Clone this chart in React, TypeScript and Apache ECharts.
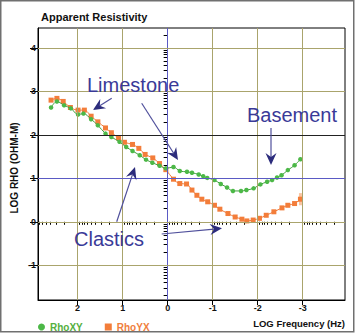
import React, { useEffect, useRef } from "react";
import * as echarts from "echarts";

// ---- data ----
const freqXY = [2.59, 2.46, 2.3, 2.15, 1.99, 1.87, 1.7, 1.55, 1.38, 1.25, 1.07, 0.92, 0.78, 0.62, 0.48, 0.34, 0.18, 0.04, -0.13, -0.27, -0.43, -0.54, -0.69, -0.79, -0.88, -1.04, -1.18, -1.32, -1.45, -1.63, -1.75, -1.91, -2.06, -2.21, -2.32, -2.43, -2.53, -2.67, -2.82, -2.95];
const rhoXY = [2.63, 2.77, 2.68, 2.61, 2.47, 2.49, 2.36, 2.22, 2.03, 1.95, 1.84, 1.72, 1.63, 1.53, 1.43, 1.36, 1.29, 1.23, 1.26, 1.17, 1.15, 1.13, 1.09, 1.05, 1.01, 0.96, 0.87, 0.79, 0.71, 0.71, 0.73, 0.77, 0.86, 0.92, 0.96, 1.02, 1.07, 1.19, 1.3, 1.44];
const freqYX = [2.59, 2.46, 2.32, 2.16, 1.99, 1.85, 1.7, 1.55, 1.38, 1.25, 1.09, 0.96, 0.78, 0.64, 0.5, 0.33, 0.18, 0.04, -0.13, -0.27, -0.42, -0.54, -0.65, -0.76, -0.89, -1.04, -1.16, -1.34, -1.5, -1.65, -1.76, -1.9, -2.04, -2.19, -2.36, -2.54, -2.67, -2.82, -2.95];
const rhoYX = [2.8, 2.84, 2.77, 2.63, 2.57, 2.57, 2.43, 2.3, 2.16, 2.05, 1.93, 1.83, 1.78, 1.69, 1.55, 1.47, 1.34, 1.2, 0.98, 0.88, 0.87, 0.73, 0.61, 0.52, 0.46, 0.38, 0.29, 0.19, 0.11, 0.06, 0.02, 0.04, 0.08, 0.15, 0.23, 0.32, 0.38, 0.42, 0.52];
// error bar on last RhoYX point: [freq, low, high]
const errYX = [[-2.95, 0.38, 0.66]];

const xTicks = [-3, -2, -1, 0, 1, 2];
const yTicks = [-1, 0, 1, 2, 3, 4];
const xOliveLines = [2, 1, -1, -2, -3];
const xBlueLines = [0];
const yOliveLines = [4, 3, 0, -1];
const yBlueLines = [1];
const yBlackLines = [2];

const X_MIN = -3.94;
const X_MAX = 2.88;
const Y_MIN = -1.8;
const Y_MAX = 4.46;

function logMinor(min: number, max: number) {
  const out: number[] = [];
  for (let n = Math.floor(min) - 1; n <= Math.ceil(max); n++) {
    for (let k = 2; k <= 9; k++) {
      const v = n + Math.log10(k);
      if (v > min && v < max) out.push(v);
    }
  }
  return out;
}

const OLIVE = "#aaa46c";
const BLUE = "#5a5ac4";
const NAVY = "#3a3a98";
const ARROW = "#2c2c7c";
const GREEN = "#4cb847";
const ORANGE = "#f37d3a";
const FONT = "Arial, 'Liberation Sans', sans-serif";

function arrow(x1: number, y1: number, x2: number, y2: number) {
  const dx = x2 - x1;
  const dy = y2 - y1;
  const len = Math.sqrt(dx * dx + dy * dy);
  const ux = dx / len;
  const uy = dy / len;
  const px = -uy;
  const py = ux;
  const hl = 12;
  const hw = 5.5;
  const notch = 4;
  const bx = x2 - ux * hl;
  const by = y2 - uy * hl;
  const nx = x2 - ux * (hl - notch);
  const ny = y2 - uy * (hl - notch);
  return [
    {
      type: "line",
      shape: { x1, y1, x2: nx, y2: ny },
      style: { stroke: "#50509c", lineWidth: 1.2 },
      z: 100,
    },
    {
      type: "polygon",
      shape: {
        points: [
          [x2, y2],
          [bx + px * hw, by + py * hw],
          [nx, ny],
          [bx - px * hw, by - py * hw],
        ],
      },
      style: { fill: ARROW },
      z: 100,
    },
  ];
}

export default function App() {
  const ref = useRef<HTMLDivElement>(null);

  useEffect(() => {
    if (!ref.current) return;
    const chart = echarts.init(ref.current, null, { renderer: "svg" });
    const xMinor = logMinor(X_MIN, X_MAX);
    const yMinor = logMinor(Y_MIN, Y_MAX);

    const gridLines: any[] = [];
    xOliveLines.forEach((v) => gridLines.push({ xAxis: v, lineStyle: { color: OLIVE, width: 1, type: "solid" } }));
    xBlueLines.forEach((v) => gridLines.push({ xAxis: v, lineStyle: { color: BLUE, width: 1, type: "solid" } }));
    yOliveLines.forEach((v) => gridLines.push({ yAxis: v, lineStyle: { color: OLIVE, width: 1, type: "solid" } }));
    yBlueLines.forEach((v) => gridLines.push({ yAxis: v, lineStyle: { color: BLUE, width: 1, type: "solid" } }));
    yBlackLines.forEach((v) => gridLines.push({ yAxis: v, lineStyle: { color: "#222", width: 1.2, type: "solid" } }));

    const labelFmt = (v: number) => String(Math.round(v));

    const option: any = {
      animation: false,
      backgroundColor: "#fff",
      title: {
        text: "Apparent Resistivity",
        left: 36,
        top: 6,
        textStyle: { fontSize: 11, fontWeight: "bold", color: "#111", fontFamily: FONT },
      },
      legend: {
        data: [
          { name: "RhoXY", icon: "circle", textStyle: { color: "#55b040" } },
          { name: "RhoYX", icon: "rect", textStyle: { color: "#f08040" } },
        ],
        left: 33,
        top: 317,
        itemWidth: 7,
        itemHeight: 7,
        itemGap: 22,
        textStyle: { fontSize: 10, fontWeight: "bold", fontFamily: FONT },
      },
      grid: {
        left: 38,
        right: 11,
        top: 28,
        bottom: 33,
        show: true,
        borderColor: "#000",
        borderWidth: 1,
        backgroundColor: "#fff",
      },
      xAxis: [
        {
          type: "value",
          inverse: true,
          min: X_MIN,
          max: X_MAX,
          position: "bottom",
          axisLine: { show: true, onZero: false, lineStyle: { color: "#000", width: 1 } },
          axisTick: { show: true, length: 5, customValues: xTicks, lineStyle: { color: "#000" } },
          axisLabel: {
            show: true,
            customValues: xTicks,
            formatter: labelFmt,
            fontSize: 9,
            fontWeight: "bold",
            color: "#111",
            margin: 3,
            fontFamily: FONT,
          },
          splitLine: { show: false },
        },
        {
          type: "value",
          inverse: true,
          min: X_MIN,
          max: X_MAX,
          position: "bottom",
          offset: 0,
          axisLine: { show: false },
          axisTick: { show: true, length: 3, customValues: xMinor, lineStyle: { color: "#000" } },
          axisLabel: { show: false },
          splitLine: { show: false },
        },
      ],
      yAxis: [
        {
          type: "value",
          min: Y_MIN,
          max: Y_MAX,
          position: "left",
          axisLine: { show: true, onZero: false, lineStyle: { color: "#000", width: 1 } },
          axisTick: { show: true, length: 8, customValues: yTicks, lineStyle: { color: "#000" } },
          axisLabel: {
            show: true,
            customValues: yTicks,
            formatter: labelFmt,
            fontSize: 9,
            fontWeight: "bold",
            color: "#111",
            margin: 2,
            fontFamily: FONT,
          },
          splitLine: { show: false },
        },
        {
          type: "value",
          min: Y_MIN,
          max: Y_MAX,
          position: "left",
          offset: 0,
          axisLine: { show: false },
          axisTick: { show: true, length: 4, customValues: yMinor, lineStyle: { color: "#000" } },
          axisLabel: { show: false },
          splitLine: { show: false },
        },
      ],
      series: [
        {
          name: "grid",
          type: "line",
          data: [[0, 0]],
          symbol: "none",
          showSymbol: false,
          lineStyle: { opacity: 0 },
          z: 1,
          silent: true,
          markLine: {
            silent: true,
            symbol: "none",
            label: { show: false },
            animation: false,
            data: gridLines,
          },
        },
        {
          name: "errYX",
          type: "custom",
          z: 2,
          silent: true,
          data: errYX,
          renderItem: (params: any, api: any) => {
            const p1 = api.coord([api.value(0), api.value(1)]);
            const p2 = api.coord([api.value(0), api.value(2)]);
            return {
              type: "rect",
              shape: { x: p1[0] - 1.5, y: p2[1], width: 3, height: p1[1] - p2[1] },
              style: { fill: "#f9c4a0" },
            };
          },
        },
        {
          name: "RhoXY",
          type: "line",
          data: freqXY.map((f, i) => [f, rhoXY[i]]),
          smooth: 0.35,
          symbol: "circle",
          symbolSize: 4.5,
          itemStyle: { color: GREEN },
          lineStyle: { color: "#3f9f3c", width: 1 },
          z: 4,
        },
        {
          name: "RhoYX",
          type: "line",
          data: freqYX.map((f, i) => [f, rhoYX[i]]),
          smooth: 0.35,
          symbol: "rect",
          symbolSize: 5,
          itemStyle: { color: ORANGE },
          lineStyle: { color: "#f07a38", width: 1 },
          z: 3,
        },
      ],
      graphic: [
        {
          type: "rect",
          shape: { x: 0.75, y: 0.75, width: 353, height: 331 },
          style: { fill: "none", stroke: "#707070", lineWidth: 1.5 },
          z: 200,
          silent: true,
        },
        {
          type: "text",
          x: 14,
          y: 168,
          rotation: Math.PI / 2,
          style: {
            text: "LOG RHO (OHM-M)",
            fill: "#111",
            fontSize: 10,
            fontWeight: "bold",
            fontFamily: FONT,
            textAlign: "center",
            textVerticalAlign: "middle",
          },
        },
        {
          type: "text",
          x: 345,
          y: 323,
          style: {
            text: "LOG Frequency (Hz)",
            fill: "#111",
            fontSize: 9.5,
            fontWeight: "bold",
            fontFamily: FONT,
            textAlign: "right",
            textVerticalAlign: "middle",
          },
        },
        {
          type: "text",
          x: 87,
          y: 85,
          z: 100,
          style: { text: "Limestone", fill: NAVY, fontSize: 20, fontFamily: FONT, textAlign: "left", textVerticalAlign: "middle" },
        },
        {
          type: "text",
          x: 247,
          y: 115,
          z: 100,
          style: { text: "Basement", fill: NAVY, fontSize: 20, fontFamily: FONT, textAlign: "left", textVerticalAlign: "middle" },
        },
        {
          type: "text",
          x: 74,
          y: 239,
          z: 100,
          style: { text: "Clastics", fill: NAVY, fontSize: 20, fontFamily: FONT, textAlign: "left", textVerticalAlign: "middle" },
        },
        ...arrow(111.7, 98.3, 93, 110),
        ...arrow(141.7, 103.3, 178, 160),
        ...arrow(271, 128, 271, 165),
        ...arrow(116.7, 221.7, 135, 167),
        ...arrow(161.7, 234, 222, 228.3),
      ],
    };

    chart.setOption(option);
    return () => chart.dispose();
  }, []);

  return (
    <div
      ref={ref}
      style={{ position: "absolute", left: 0, top: 0, width: 356, height: 333 }}
    />
  );
}
